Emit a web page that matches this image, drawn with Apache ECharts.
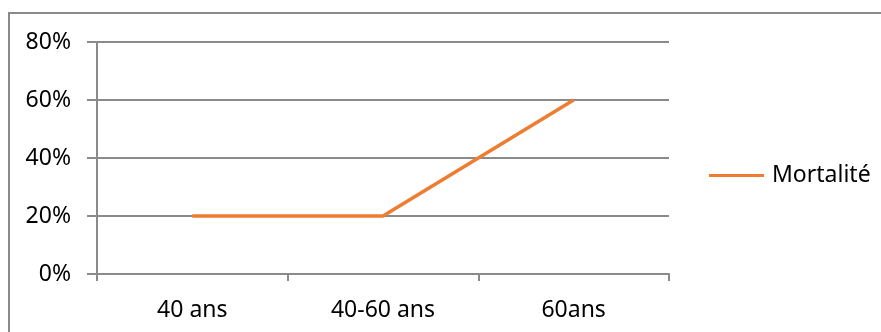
<!DOCTYPE html>
<html>
<head>
<meta charset="utf-8">
<script src="https://cdn.jsdelivr.net/npm/echarts@6/dist/echarts.min.js"></script>
<style>
  html, body { margin: 0; padding: 0; background: #fff; }
  #chart { width: 881px; height: 332px; }
</style>
</head>
<body>
<div id="chart"></div>
<script>
// Age groups and mortality rates (percent)
const categories = ['40 ans', '40-60 ans', '60ans'];
const mortalite = [20, 20, 60];
const seriesName = 'Mortalité';

const gray = '#8a8a8a';
const font = '"Noto Sans", sans-serif';

const chart = echarts.init(document.getElementById('chart'), null, { renderer: 'canvas' });
chart.setOption({
  animation: false,
  backgroundColor: '#ffffff',
  graphic: [{
    type: 'rect',
    shape: { x: 9, y: 13, width: 1000, height: 500 },
    style: { fill: 'none', stroke: gray, lineWidth: 2 },
    silent: true
  }],
  grid: { left: 97, right: 212, top: 42, bottom: 58 },
  legend: {
    left: 709,
    top: 164,
    padding: 0,
    icon: 'rect',
    itemWidth: 55,
    itemHeight: 3,
    data: [seriesName],
    textStyle: { fontFamily: font, fontSize: 23, color: '#000', padding: [0, 0, 0, 3] }
  },
  xAxis: {
    type: 'category',
    data: categories,
    boundaryGap: true,
    axisLine: { lineStyle: { color: gray, width: 2 } },
    axisTick: { show: true, length: 7, lineStyle: { color: gray, width: 2 } },
    axisLabel: { fontFamily: font, fontSize: 23, color: '#000', margin: 25 },
    splitLine: { show: false }
  },
  yAxis: {
    type: 'value',
    min: 0,
    max: 80,
    interval: 20,
    axisLine: { show: true, lineStyle: { color: gray, width: 2 } },
    axisTick: { show: true, length: 10, lineStyle: { color: gray, width: 2 } },
    axisLabel: { fontFamily: font, fontSize: 23, color: '#000', margin: 26, formatter: '{value}%' },
    splitLine: { show: true, lineStyle: { color: gray, width: 2 } }
  },
  series: [{
    name: seriesName,
    type: 'line',
    data: mortalite,
    symbol: 'none',
    smooth: false,
    lineStyle: { color: '#ED7D31', width: 3.5 },
    itemStyle: { color: '#ED7D31' }
  }]
});
</script>
</body>
</html>
